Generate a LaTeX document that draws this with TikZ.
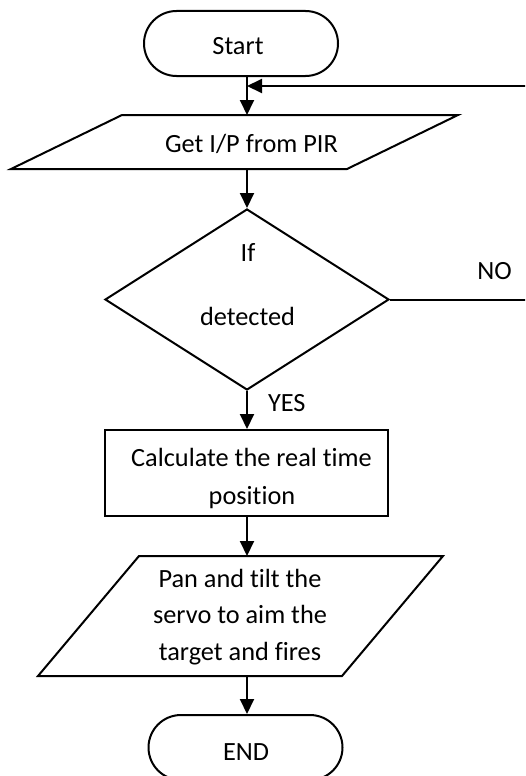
\documentclass[tikz,border=0pt]{standalone}
\usepackage{fontspec}
\setmainfont{Carlito}[Ligatures={NoCommon}]
\usetikzlibrary{shapes.geometric,shapes.misc,arrows.meta}
\begin{document}
\begin{tikzpicture}[x=1pt,y=-1pt,
  line width=2pt,
  term/.style={draw,rounded rectangle,minimum width=194pt,minimum height=65pt,inner sep=0pt},
  iobox/.style={inner sep=0pt,outer sep=0pt},
  decis/.style={draw,diamond,minimum width=284pt,minimum height=181pt,inner sep=0pt},
  proc/.style={draw,rectangle,minimum width=283pt,minimum height=86pt,inner sep=0pt},
  txt/.style={anchor=base,inner sep=0pt,font=\fontsize{26.3}{37.5}\selectfont},
  arr/.style={-{Triangle[width=14pt,length=15pt]}},
  line join=miter]
\clip (0,0) rectangle (525,776);
% shapes
\node[term] (start) at (241,43.5) {};
\node[iobox,minimum width=224pt,minimum height=54pt] (getip) at (234.5,142) {};
\draw (122,115) -- (458,115) -- (347,169) -- (11,169) -- cycle;
\node[decis] (dec) at (247,299.5) {};
\node[proc] (calc) at (246.5,473) {};
\node[iobox,minimum width=204pt,minimum height=120pt] (pan) at (240.5,616) {};
\draw (139,556) -- (443,556) -- (342,676) -- (38,676) -- cycle;
\node[term] (end) at (245.5,747.5) {};
% texts
\node[txt] (tstart) at (238,55) {Start};
\node[txt] (tget) at (251.5,152) {Get I/P from PIR};
\node[txt] (tif) at (248,261) {If};
\node[txt] (tdet) at (247.5,325) {detected};
\node[txt] (tno) at (494.5,279) {NO};
\node[txt,anchor=base west] (tyes) at (267,411) {YES};
\node[txt] (tcalc1) at (251.5,466) {Calculate the real time};
\node[txt] (tcalc2) at (252,504) {position};
\node[txt] (tpan1) at (240,587) {Pan and tilt the};
\node[txt] (tpan2) at (240,623) {servo to aim the};
\node[txt] (tpan3) at (240,660) {target and fires};
\node[txt] (tend) at (246,760) {END};
% connectors
\coordinate (join) at (247,86);
\coordinate (fbR) at (530,299.5);
\coordinate (fbT) at (530,86);
\draw[arr] (start.south -| dec.north) -- (getip.north -| dec.north);
\draw[arr] (getip.south -| dec.north) -- (dec.north);
\draw[arr] (dec.south) -- (calc.north -| dec.south);
\draw[arr] (calc.south -| dec.south) -- (pan.north -| dec.south);
\draw[arr] (pan.south -| dec.south) -- (end.north -| dec.south);
\draw[arr] (dec.east) -- (fbR) -- (fbT) -- (join);
\end{tikzpicture}
\end{document}
